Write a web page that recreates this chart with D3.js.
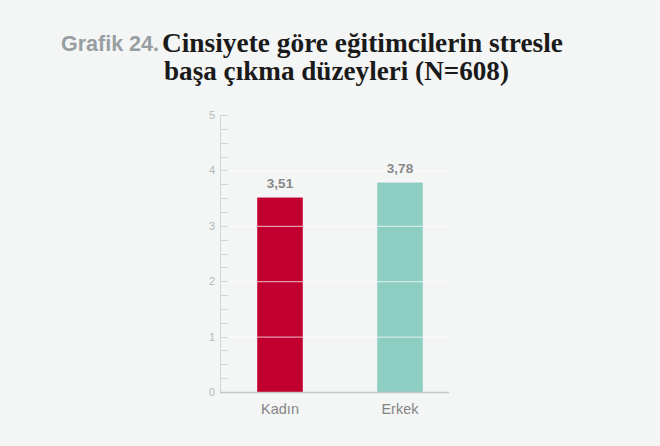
<!DOCTYPE html>
<html><head><meta charset="utf-8">
<script src="https://cdn.jsdelivr.net/npm/d3@7"></script>
<style>body{margin:0;background:#f4f5f5;}svg{display:block}</style>
</head><body>
<script>
const categories = ["Kadın", "Erkek"];
const values = [3.51, 3.78];
const labels = ["3,51", "3,78"];
const colors = ["#c20030", "#8ecdc2"];
const yTicks = [0, 1, 2, 3, 4, 5];

const W = 660, H = 446;
const svg = d3.select("body").append("svg").attr("width", W).attr("height", H);
svg.append("rect").attr("width", W).attr("height", H).attr("fill", "#f4f5f5");

const y = d3.scaleLinear().domain([0, 5]).range([392, 115]);
const x = d3.scaleBand().domain(categories).range([220, 460]).paddingInner(0.62).paddingOuter(0.31);

// title
svg.append("text").attr("x", 61).attr("y", 51).attr("font-family", "Liberation Sans, Arial, sans-serif")
  .attr("font-weight", "bold").attr("font-size", 21.5).attr("fill", "#979ea2").text("Grafik 24.");
svg.append("text").attr("x", 162).attr("y", 52).attr("font-family", "Liberation Serif, serif")
  .attr("font-weight", "bold").attr("font-size", 27.3).attr("fill", "#1a1a1a")
  .attr("textLength", 401).attr("lengthAdjust", "spacingAndGlyphs").text("Cinsiyete göre eğitimcilerin stresle");
svg.append("text").attr("x", 164).attr("y", 80).attr("font-family", "Liberation Serif, serif")
  .attr("font-weight", "bold").attr("font-size", 27.3).attr("fill", "#1a1a1a")
  .attr("textLength", 345).attr("lengthAdjust", "spacingAndGlyphs").text("başa çıkma düzeyleri (N=608)");

// bars
svg.selectAll("rect.bar").data(values).join("rect").attr("class", "bar")
  .attr("x", (d, i) => x(categories[i])).attr("width", x.bandwidth())
  .attr("y", d => y(d)).attr("height", d => y(0) - y(d))
  .attr("fill", (d, i) => colors[i]);

// white grid lines (visible on bars)
svg.selectAll("line.grid").data([1, 2, 3, 4]).join("line").attr("class", "grid")
  .attr("x1", 221).attr("x2", 449).attr("y1", d => y(d) + 0.5).attr("y2", d => y(d) + 0.5)
  .attr("stroke", "#ffffff").attr("stroke-opacity", 0.75).attr("stroke-width", 1);

// y axis
const minor = d3.range(0, 5.001, 0.25);
svg.selectAll("line.tick").data(minor).join("line").attr("class", "tick")
  .attr("x1", 220).attr("x2", 228).attr("y1", d => Math.round(y(d)) + 0.5).attr("y2", d => Math.round(y(d)) + 0.5)
  .attr("stroke", "#d3d6d8");
svg.append("line").attr("x1", 220.5).attr("x2", 220.5).attr("y1", y(5)).attr("y2", y(0))
  .attr("stroke", "#d3d6d8");
svg.selectAll("text.ytick").data(yTicks).join("text").attr("class", "ytick")
  .attr("x", 215).attr("y", d => y(d) + 4).attr("text-anchor", "end")
  .attr("font-family", "Liberation Sans, Arial, sans-serif").attr("font-size", 11).attr("fill", "#b5b9bb")
  .text(d => d);

// baseline
svg.append("line").attr("x1", 220).attr("x2", 449).attr("y1", y(0) + 0.5).attr("y2", y(0) + 0.5)
  .attr("stroke", "#c3c8cb").attr("stroke-width", 1.5);

// value labels
svg.selectAll("text.val").data(values).join("text").attr("class", "val")
  .attr("x", (d, i) => x(categories[i]) + x.bandwidth() / 2).attr("y", d => y(d) - 10)
  .attr("text-anchor", "middle").attr("font-family", "Liberation Sans, Arial, sans-serif")
  .attr("font-weight", "bold").attr("font-size", 13.5).attr("fill", "#888888")
  .text((d, i) => labels[i]);

// category labels
svg.selectAll("text.cat").data(categories).join("text").attr("class", "cat")
  .attr("x", d => x(d) + x.bandwidth() / 2).attr("y", 414)
  .attr("text-anchor", "middle").attr("font-family", "Liberation Sans, Arial, sans-serif")
  .attr("font-size", 14.5).attr("fill", "#858585").text(d => d);
</script>
</body></html>
